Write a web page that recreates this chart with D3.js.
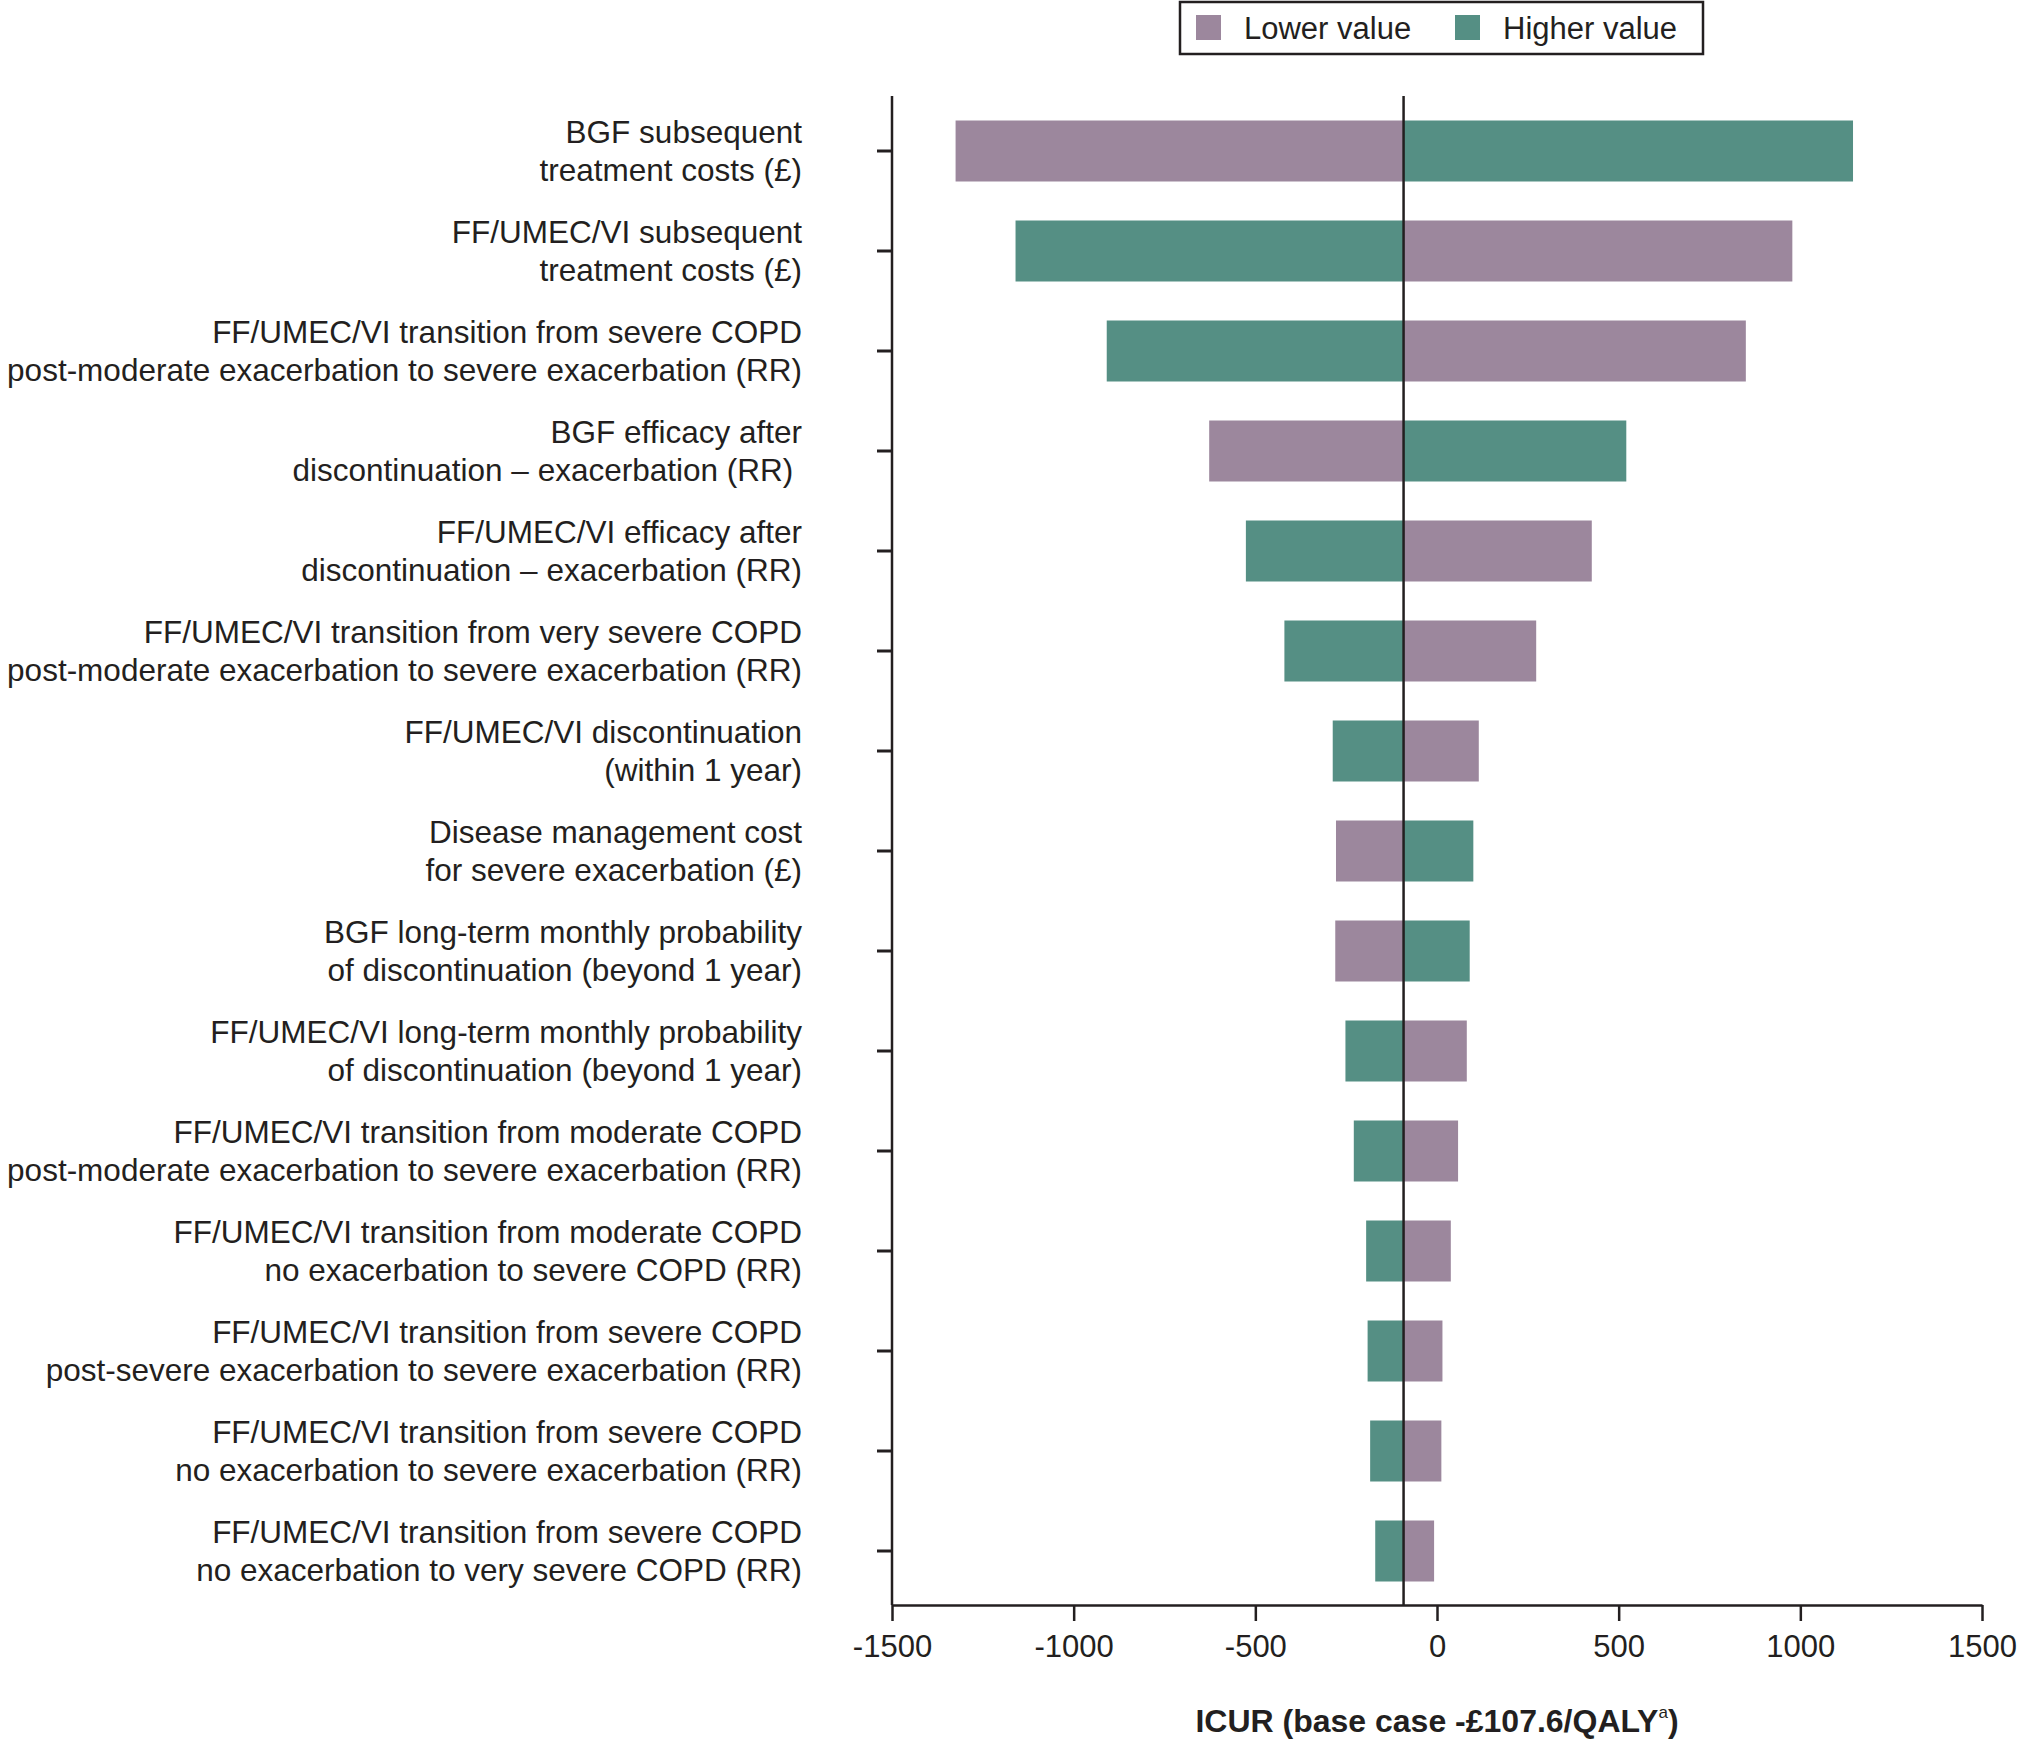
<!DOCTYPE html>
<html>
<head>
<meta charset="utf-8">
<script src="https://cdn.jsdelivr.net/npm/d3@7"></script>
<style>
  body { margin: 0; background: #fff; }
  text { font-family: "Liberation Sans", Arial, sans-serif; fill: #231f20; }
</style>
</head>
<body>
<div id="vizcontainer"></div>
<script>
// parameters, top to bottom (two lines each)
const labels = [
  ['BGF subsequent', 'treatment costs (£)'],
  ['FF/UMEC/VI subsequent', 'treatment costs (£)'],
  ['FF/UMEC/VI transition from severe COPD', 'post-moderate exacerbation to severe exacerbation (RR)'],
  ['BGF efficacy after', 'discontinuation – exacerbation (RR)\u00a0'],
  ['FF/UMEC/VI efficacy after', 'discontinuation – exacerbation (RR)'],
  ['FF/UMEC/VI transition from very severe COPD', 'post-moderate exacerbation to severe exacerbation (RR)'],
  ['FF/UMEC/VI discontinuation', '(within 1 year)'],
  ['Disease management cost', 'for severe exacerbation (£)'],
  ['BGF long-term monthly probability', 'of discontinuation (beyond 1 year)'],
  ['FF/UMEC/VI long-term monthly probability', 'of discontinuation (beyond 1 year)'],
  ['FF/UMEC/VI transition from moderate COPD', 'post-moderate exacerbation to severe exacerbation (RR)'],
  ['FF/UMEC/VI transition from moderate COPD', 'no exacerbation to severe COPD (RR)'],
  ['FF/UMEC/VI transition from severe COPD', 'post-severe exacerbation to severe exacerbation (RR)'],
  ['FF/UMEC/VI transition from severe COPD', 'no exacerbation to severe exacerbation (RR)'],
  ['FF/UMEC/VI transition from severe COPD', 'no exacerbation to very severe COPD (RR)']
];

// ICUR when the parameter is set to its lower / higher value
const lowerValues = [-1325, 978, 850, -627, 426, 273, 115, -278, -280, 82, 58, 38, 15, 12, -8];
const higherValues = [1145, -1160, -909, 521, -526, -420, -287, 100, 90, -252, -229, -195, -191, -184, -170];

// where the centre line sits on the axis
const baseCase = -92;

const xTicks = [-1500, -1000, -500, 0, 500, 1000, 1500];
const seriesNames = ['Lower value', 'Higher value'];

const
  width = 2026,
  height = 1740;

const colLower = '#9c879d',
  colHigher = '#558f84',
  ink = '#231f20';

const fs = 31.5;

let viz = d3.select('#vizcontainer')
  .append('svg')
  .attr('width', width)
  .attr('height', height);

const x = d3.scaleLinear()
  .domain([-1500, 1500])
  .range([892, 1982]);

const ids = labels.map((d, i) => i);
const y = d3.scaleBand()
  .domain(ids)
  .range([101, 1601])
  .paddingInner(0.39)
  .paddingOuter(0.195);

const rows = ids.map(i => ({ i: i, lower: lowerValues[i], higher: higherValues[i] }));

// bars
const bars = viz.append('g');
rows.forEach(r => {
  [['lower', colLower], ['higher', colHigher]].forEach(([k, c]) => {
    const v = r[k];
    bars.append('rect')
      .attr('x', Math.min(x(v), x(baseCase)))
      .attr('y', y(r.i))
      .attr('width', Math.abs(x(v) - x(baseCase)))
      .attr('height', y.bandwidth())
      .attr('fill', c);
  });
});

// y axis (ticks only, labels drawn separately)
const yAxis = viz.append('g')
  .attr('transform', `translate(${x(-1500)},0)`)
  .call(d3.axisLeft(y).tickSize(15).tickFormat(''));
yAxis.select('.domain').remove();
yAxis.selectAll('.tick line').attr('stroke', ink).attr('stroke-width', 3);

viz.append('line')
  .attr('x1', x(-1500)).attr('x2', x(-1500))
  .attr('y1', 96).attr('y2', 1605)
  .attr('stroke', ink).attr('stroke-width', 2.5);

// x axis
const xAxis = viz.append('g')
  .attr('transform', 'translate(0,1605)')
  .call(d3.axisBottom(x).tickValues(xTicks).tickSize(16).tickSizeOuter(0).tickPadding(14)
    .tickFormat(d => String(d)));
xAxis.select('.domain').attr('stroke', ink).attr('stroke-width', 2.5);
xAxis.selectAll('.tick line').attr('stroke', ink).attr('stroke-width', 2.5);
xAxis.selectAll('.tick text')
  .style('font-family', '"Liberation Sans", Arial, sans-serif')
  .attr('font-size', 31)
  .attr('fill', ink);

// base case line
viz.append('line')
  .attr('x1', x(baseCase)).attr('x2', x(baseCase))
  .attr('y1', 96).attr('y2', 1605)
  .attr('stroke', ink).attr('stroke-width', 2.5);

// category labels
const lab = viz.append('g');
rows.forEach(r => {
  const cy = y(r.i) + y.bandwidth() / 2;
  const t = lab.append('text')
    .attr('text-anchor', 'end')
    .attr('font-size', fs)
    .attr('x', 802)
    .attr('y', cy);
  labels[r.i].forEach((line, j) => {
    const ts = t.append('tspan')
      .attr('x', 802)
      .attr('y', cy + (j === 0 ? -19 : 19))
      .attr('dominant-baseline', 'central')
      .text(line);
    // squeeze the longest lines so they fit left of the axis
    if (ts.node().getComputedTextLength() > 798) {
      ts.attr('textLength', 798).attr('lengthAdjust', 'spacingAndGlyphs');
    }
  });
});

// axis title
const title = viz.append('text')
  .attr('x', x(0))
  .attr('y', 1721)
  .attr('text-anchor', 'middle')
  .attr('dominant-baseline', 'central')
  .attr('font-size', 32)
  .attr('font-weight', 'bold');
title.append('tspan').text('ICUR (base case -£107.6/QALY');
title.append('tspan').attr('font-size', 17).attr('font-weight', 'normal').attr('dy', -9).text('a');
title.append('tspan').attr('dy', 9).text(')');

// legend
const legend = viz.append('g');
legend.append('rect')
  .attr('x', 1180).attr('y', 2)
  .attr('width', 523).attr('height', 52)
  .attr('fill', 'none')
  .attr('stroke', ink)
  .attr('stroke-width', 2.5);
const legX = [1196, 1455];
seriesNames.forEach((name, i) => {
  legend.append('rect')
    .attr('x', legX[i]).attr('y', 15)
    .attr('width', 25).attr('height', 25)
    .attr('fill', i === 0 ? colLower : colHigher);
  legend.append('text')
    .attr('x', legX[i] + 48).attr('y', 28)
    .attr('dominant-baseline', 'central')
    .attr('font-size', 31)
    .text(name);
});
</script>
</body>
</html>
